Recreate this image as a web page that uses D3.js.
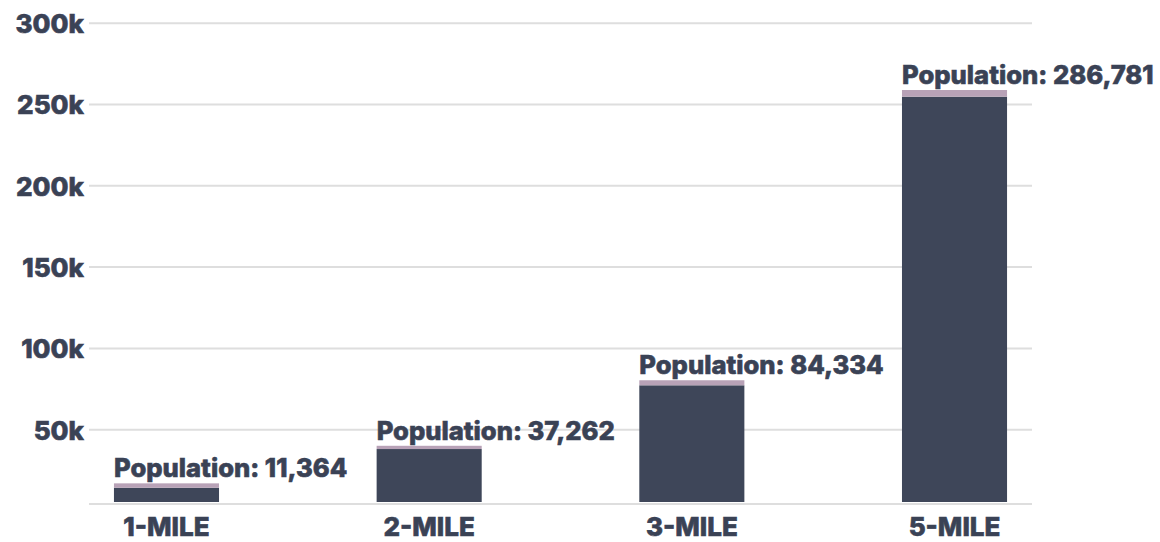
<!DOCTYPE html>
<html>
<head>
<meta charset="utf-8">
<script src="https://cdn.jsdelivr.net/npm/d3@7/dist/d3.min.js"></script>
<style>
  html, body { margin: 0; padding: 0; background: #ffffff; }
  svg { display: block; }
  .tick text, .bar-label {
    font-family: "Inter", "Open Sans", sans-serif; font-weight: 800;
    fill: #3a4255; stroke: #3a4255; stroke-width: 0.6px;
  }
</style>
</head>
<body>
<svg id="chart" width="1160" height="542"></svg>
<script>
// Trade-area radii
const categories = ["1-MILE", "2-MILE", "3-MILE", "5-MILE"];
// Population stated in each bar's label
const populations = [11364, 37262, 84334, 286781];
// Stacked bar segments: main (dark) and cap (mauve)
const mainValues = [14000, 37800, 77000, 254500];
const capValues = [2700, 2000, 3100, 4100];
// Y axis ticks
const yTicks = [50000, 100000, 150000, 200000, 250000, 300000];
const yFloor = 4000;

const svg = d3.select("#chart");
const margin = { left: 89, right: 128, top: 22.7, bottom: 38 };
const width = 1160 - margin.left - margin.right;
const plotBottom = 504;

const x = d3.scaleBand()
  .domain(categories)
  .range([margin.left, margin.left + width])
  .paddingInner(0.6)
  .paddingOuter(0.095);

const y = d3.scaleLinear()
  .domain([yFloor, 300000])
  .range([plotBottom, margin.top]);

// Gridlines and tick labels
const yAxis = svg.append("g")
  .attr("transform", `translate(${margin.left},0)`)
  .call(d3.axisLeft(y)
    .tickValues(yTicks)
    .tickSize(-width)
    .tickPadding(5)
    .tickFormat(d => d3.format("d")(d / 1000) + "k"));
yAxis.select(".domain").remove();
yAxis.selectAll(".tick line").attr("stroke", "#dedede").attr("stroke-width", 2);
yAxis.selectAll(".tick text").attr("font-size", 26).attr("dy", "0.38em");

// Baseline
svg.append("line")
  .attr("x1", margin.left).attr("x2", margin.left + width)
  .attr("y1", plotBottom).attr("y2", plotBottom)
  .attr("stroke", "#dedede").attr("stroke-width", 2);

// Category labels
const xAxis = svg.append("g")
  .attr("transform", `translate(0,${plotBottom})`)
  .call(d3.axisBottom(x).tickSize(0).tickPadding(0));
xAxis.select(".domain").remove();
xAxis.selectAll(".tick text")
  .attr("font-size", 26)
  .attr("dy", 0)
  .attr("y", 32);

const rows = categories.map((c, i) => ({
  cat: c, main: mainValues[i], cap: capValues[i], pop: populations[i]
}));

const barBottom = plotBottom - 2;

// Main segment
svg.append("g").selectAll("rect")
  .data(rows)
  .join("rect")
  .attr("x", d => x(d.cat))
  .attr("width", x.bandwidth())
  .attr("y", d => y(d.main))
  .attr("height", d => barBottom - y(d.main))
  .attr("fill", "#3e4659");

// Cap segment
svg.append("g").selectAll("rect")
  .data(rows)
  .join("rect")
  .attr("x", d => x(d.cat))
  .attr("width", x.bandwidth())
  .attr("y", d => y(d.main + d.cap))
  .attr("height", d => y(d.main) - y(d.main + d.cap))
  .attr("fill", "#b8a2b7");

// Population labels
svg.append("g").selectAll("text")
  .data(rows)
  .join("text")
  .attr("class", "bar-label")
  .attr("x", d => x(d.cat))
  .attr("y", d => y(d.main + d.cap) - 6)
  .attr("font-size", 25.6)
  .text(d => "Population: " + d3.format(",")(d.pop));
</script>
</body>
</html>
